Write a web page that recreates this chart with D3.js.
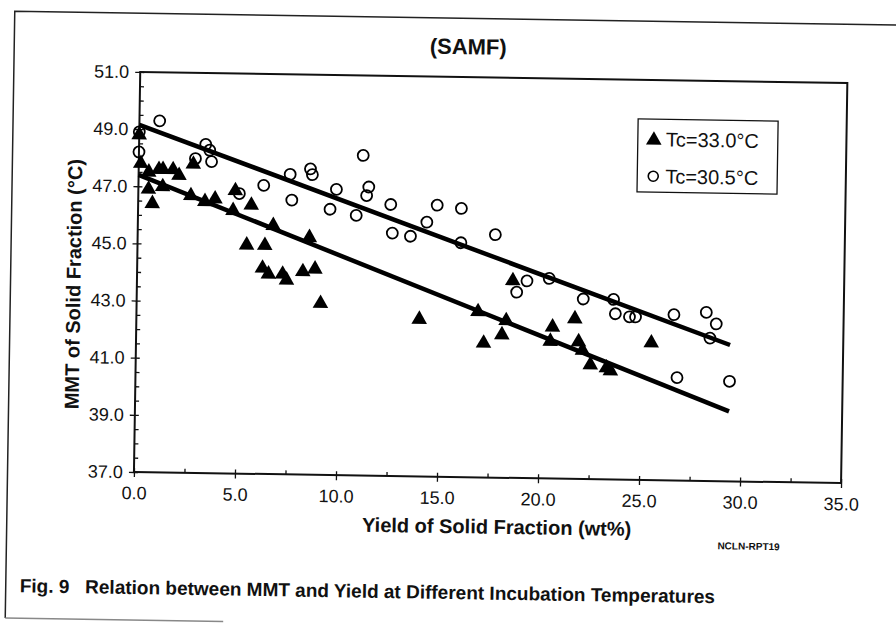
<!DOCTYPE html>
<html>
<head>
<meta charset="utf-8">
<script src="https://cdn.jsdelivr.net/npm/d3@7"></script>
<style>
body { margin: 0; background: #fff; }
text { font-family: Arial, "Liberation Sans", sans-serif; fill: #111; }
</style>
</head>
<body>
<div class="canva"></div>
<script>
// Tc = 33.0 C  (filled triangles)
const yield33 = [0.0, 0.1, 0.5, 1.0, 1.2, 1.7, 2.0, 0.5, 0.7, 1.2, 2.7, 2.6, 3.3, 3.8, 4.8, 4.7, 5.6, 6.7, 8.5, 5.4, 6.3, 6.2,
    6.5, 7.2, 7.4, 8.2, 8.8, 9.1, 14.0, 16.9, 18.3, 18.1, 17.2, 18.6, 20.6, 20.5, 21.7, 21.9, 22.1, 22.5, 23.3, 23.5, 25.5];
const mmt33 = [48.8, 47.8, 47.5, 47.6, 47.6, 47.6, 47.4, 46.9, 46.4, 47.0, 47.8, 46.7, 46.5, 46.6, 46.9, 46.2, 46.4, 45.7, 45.3, 45.0, 45.0, 44.2,
    44.0, 44.0, 43.8, 44.1, 44.2, 43.0, 42.5, 42.8, 42.5, 42.0, 41.7, 43.9, 42.3, 41.8, 42.6, 41.8, 41.5, 41.0, 40.9, 40.8, 41.8];

// Tc = 30.5 C  (open circles)
const yield305 = [1.0, 0.0, 0.0, 3.3, 3.5, 2.8, 3.6, 7.5, 8.5, 8.6, 6.2, 7.6, 9.8, 9.5, 10.8, 5.0, 11.1, 11.4, 11.3, 12.5, 12.6,
    13.5, 14.3, 14.8, 16.0, 16.0, 17.7, 19.3, 18.8, 20.4, 22.1, 23.6, 23.7, 24.4, 24.7, 26.6, 28.2, 28.7, 28.4, 26.8, 29.4];
const mmt305 = [49.3, 48.9, 48.2, 48.5, 48.3, 48.0, 47.9, 47.5, 47.7, 47.5, 47.1, 46.6, 47.0, 46.3, 46.1, 46.8, 48.2, 47.1, 46.8, 46.5, 45.5,
    45.4, 45.9, 46.5, 46.4, 45.2, 45.5, 43.9, 43.5, 44.0, 43.3, 43.3, 42.8, 42.7, 42.7, 42.8, 42.9, 42.5, 42.0, 40.6, 40.5];

// fitted lines (end points)
const fit33X = [0, 29.4];
const fit33Y = [47.4, 39.45];
const fit305X = [0, 29.4];
const fit305Y = [49.15, 41.77];

const xTicks = [0, 5, 10, 15, 20, 25, 30, 35];
const xMinor = [2.5, 7.5, 12.5, 17.5, 22.5, 27.5, 32.5];
const yTicks = [37, 39, 41, 43, 45, 47, 49, 51];
const yMinor = d3.range(37.5, 51, 0.5).filter(v => v % 2 !== 1);
const legendLabels = ['Tc=33.0°C', 'Tc=30.5°C'];

const canvas = d3.select('.canva');
const svg = canvas.append('svg')
    .attr('width', 896)
    .attr('height', 635);

svg.append('rect').attr('width', 896).attr('height', 635).attr('fill', '#fff');

// the scan is turned a little
const page = svg.append('g').attr('transform', 'rotate(0.9, 448, 318)');

// page border
page.append('path')
    .attr('d', 'M10,625 L10,18 L900,18')
    .attr('fill', 'none').attr('stroke', '#222').attr('stroke-width', 1.5);
page.append('path')
    .attr('d', 'M10,625 L228,625')
    .attr('fill', 'none').attr('stroke', '#888').attr('stroke-width', 1.5);

const x = d3.scaleLinear().domain([0, 35]).range([136.4, 843.6]);
const y = d3.scaleLinear().domain([37, 51]).range([476.9, 76.8]);

const fmt = d3.format('.1f');

// axes: outer part with labels, inner part of the cross ticks, minor ticks
const gx = page.append('g').attr('transform', `translate(0,${y(37)})`)
    .call(d3.axisBottom(x).tickValues(xTicks).tickFormat(fmt).tickSizeInner(5).tickSizeOuter(0).tickPadding(6));
page.append('g').attr('transform', `translate(0,${y(37)})`)
    .call(d3.axisBottom(x).tickValues(xTicks).tickFormat('').tickSizeInner(-4).tickSizeOuter(0));
page.append('g').attr('transform', `translate(0,${y(37)})`)
    .call(d3.axisBottom(x).tickValues(xMinor).tickFormat('').tickSizeInner(-4).tickSizeOuter(0));

const gy = page.append('g').attr('transform', `translate(${x(0)},0)`)
    .call(d3.axisLeft(y).tickValues(yTicks).tickFormat(fmt).tickSizeInner(5).tickSizeOuter(0).tickPadding(6));
page.append('g').attr('transform', `translate(${x(0)},0)`)
    .call(d3.axisLeft(y).tickValues(yTicks).tickFormat('').tickSizeInner(-4).tickSizeOuter(0));
page.append('g').attr('transform', `translate(${x(0)},0)`)
    .call(d3.axisLeft(y).tickValues(yMinor).tickFormat('').tickSizeInner(-4).tickSizeOuter(0));

page.selectAll('.domain').remove();
page.selectAll('.tick line').attr('stroke', '#111').attr('stroke-width', 1.3);
gx.selectAll('text').attr('font-size', 18).attr('dy', '0.9em');
gy.selectAll('text').attr('font-size', 18);

// plot frame
page.append('rect')
    .attr('x', x(0)).attr('y', y(51))
    .attr('width', x(35) - x(0)).attr('height', y(37) - y(51))
    .attr('fill', 'none').attr('stroke', '#111').attr('stroke-width', 2);

// fitted lines
const line = d3.line().x(d => x(d[0])).y(d => y(d[1]));
page.append('path')
    .datum(d3.zip(fit305X, fit305Y))
    .attr('d', line)
    .attr('stroke', '#000').attr('stroke-width', 4.5).attr('fill', 'none');
page.append('path')
    .datum(d3.zip(fit33X, fit33Y))
    .attr('d', line)
    .attr('stroke', '#000').attr('stroke-width', 4.5).attr('fill', 'none');

// circles
page.selectAll('circle.c305')
    .data(d3.zip(yield305, mmt305))
    .enter().append('circle')
    .attr('class', 'c305')
    .attr('cx', d => x(d[0]))
    .attr('cy', d => y(d[1]))
    .attr('r', 5.5)
    .attr('fill', 'none')
    .attr('stroke', '#000')
    .attr('stroke-width', 1.8);

// triangles
const tri = d3.symbol(d3.symbolTriangle, 105);
page.selectAll('path.t33')
    .data(d3.zip(yield33, mmt33))
    .enter().append('path')
    .attr('class', 't33')
    .attr('d', tri)
    .attr('transform', d => `translate(${x(d[0])},${y(d[1])})`)
    .attr('fill', '#000');

// legend
const lg = page.append('g');
lg.append('rect')
    .attr('x', 635).attr('y', 116).attr('width', 140).attr('height', 73)
    .attr('fill', '#fff').attr('stroke', '#111').attr('stroke-width', 1.3);
lg.append('path').attr('d', tri).attr('transform', 'translate(651,137)').attr('fill', '#000');
lg.append('circle').attr('cx', 651).attr('cy', 173).attr('r', 5)
    .attr('fill', 'none').attr('stroke', '#000').attr('stroke-width', 1.6);
lg.selectAll('text.lg')
    .data(legendLabels)
    .enter().append('text')
    .attr('class', 'lg')
    .attr('x', 663)
    .attr('y', (d, i) => 143 + i * 37)
    .attr('font-size', 20)
    .text(d => d);

// titles
page.append('text')
    .attr('x', 464).attr('y', 54)
    .attr('text-anchor', 'middle')
    .attr('font-size', 22).attr('font-weight', 'bold')
    .text('(SAMF)');

page.append('text')
    .attr('x', 500).attr('y', 533)
    .attr('text-anchor', 'middle')
    .attr('font-size', 20).attr('font-weight', 'bold')
    .text('Yield of Solid Fraction (wt%)');

page.append('text')
    .attr('transform', 'translate(80,290) rotate(-90)')
    .attr('text-anchor', 'middle')
    .attr('font-size', 20).attr('font-weight', 'bold')
    .text('MMT of Solid Fraction (°C)');

page.append('text')
    .attr('x', 721).attr('y', 545)
    .attr('font-size', 10).attr('font-weight', 'bold')
    .text('NCLN-RPT19');

page.append('text')
    .attr('x', 24).attr('y', 599)
    .attr('font-size', 19).attr('font-weight', 'bold')
    .attr('xml:space', 'preserve')
    .text('Fig. 9   Relation between MMT and Yield at Different Incubation Temperatures');
</script>
</body>
</html>
